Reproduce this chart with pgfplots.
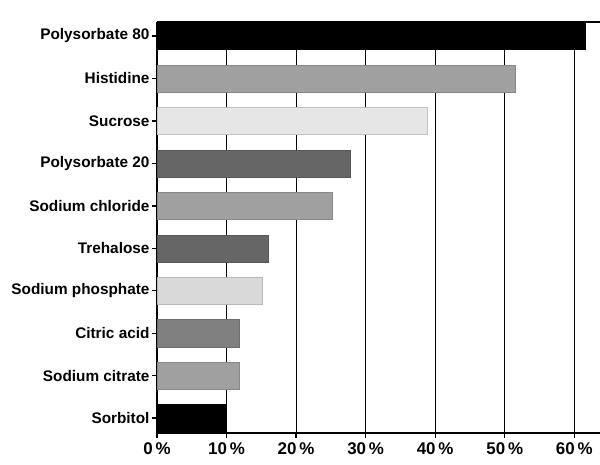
\documentclass[border=0pt]{standalone}
\usepackage{fontspec}
\setmainfont{Liberation Sans}
\usepackage{pgfplots}
\pgfplotsset{compat=1.18}
\definecolor{cBlack}{HTML}{000000}
\definecolor{cMid}{HTML}{A0A0A0}
\definecolor{cLight}{HTML}{E6E6E6}
\definecolor{cDark}{HTML}{666666}
\definecolor{cPale}{HTML}{D9D9D9}
\definecolor{cGray}{HTML}{808080}
\begin{document}
\begin{tikzpicture}
\begin{axis}[
  scale only axis,
  width=443bp, height=411bp,
  xmin=0, xmax=63.7,
  ymin=-0.33, ymax=9.35,
  y dir=reverse,
  xbar, bar shift=0pt, bar width=0.64,
  axis x line*=box, axis y line*=left,
  x axis line style={line width=1.3bp},
  y axis line style={line width=1.6bp},
  xtick={0,10,20,30,40,50,60},
  xtick pos=lower,
  xticklabel={\bfseries\pgfmathprintnumber{\tick}\,\%},
  /pgf/number format/assume math mode=true,
  xticklabel style={font=\fontsize{17}{19}\selectfont\bfseries, yshift=-1bp},
  ytick={0,...,9},
  yticklabels={Polysorbate 80,Histidine,Sucrose,Polysorbate 20,Sodium chloride,Trehalose,Sodium phosphate,Citric acid,Sodium citrate,Sorbitol},
  yticklabel style={font=\fontsize{15.4}{17}\selectfont\bfseries, xshift=1bp},
  tick align=outside,
  major tick length=5bp,
  tick style={line width=1.3bp, black},
  xmajorgrids,
  major grid style={black, line width=0.9bp},
]
\addplot[fill=cBlack, draw=cBlack] coordinates {(61.5,0)};
\addplot[fill=cMid, draw=cMid!85!black, line width=0.4bp] coordinates {(51.5,1)};
\addplot[fill=cLight, draw=cLight!85!black, line width=0.4bp] coordinates {(38.8,2)};
\addplot[fill=cDark, draw=cDark!85!black, line width=0.4bp] coordinates {(27.8,3)};
\addplot[fill=cMid, draw=cMid!85!black, line width=0.4bp] coordinates {(25.2,4)};
\addplot[fill=cDark, draw=cDark!85!black, line width=0.4bp] coordinates {(16.0,5)};
\addplot[fill=cPale, draw=cPale!85!black, line width=0.4bp] coordinates {(15.1,6)};
\addplot[fill=cGray, draw=cGray!85!black, line width=0.4bp] coordinates {(11.8,7)};
\addplot[fill=cMid, draw=cMid!85!black, line width=0.4bp] coordinates {(11.8,8)};
\addplot[fill=cBlack, draw=cBlack] coordinates {(10.0,9)};
\end{axis}
\pgfresetboundingbox
\path ([shift={(-157bp,-32bp)}]current axis.south west) rectangle ([shift={(0bp,22bp)}]current axis.north east);
\end{tikzpicture}
\end{document}
